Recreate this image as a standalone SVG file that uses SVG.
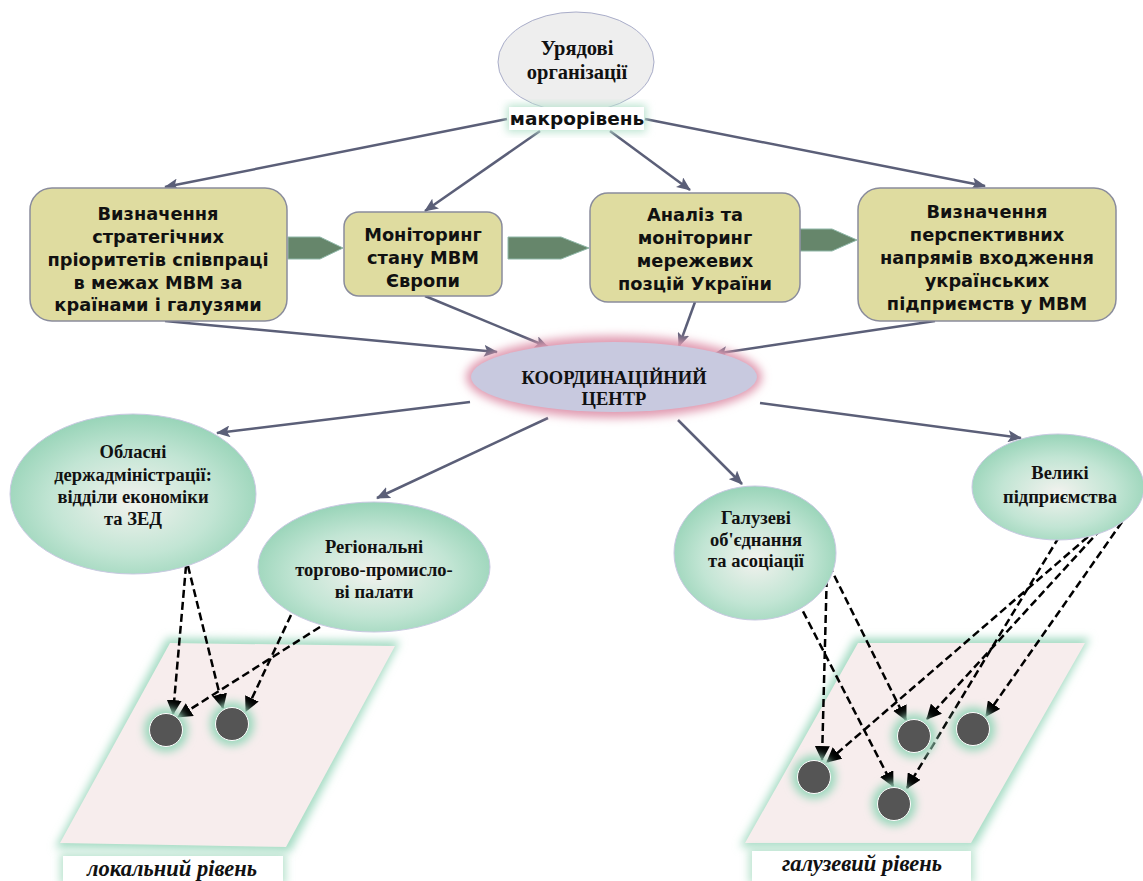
<svg xmlns="http://www.w3.org/2000/svg" width="1143" height="881" viewBox="0 0 1143 881">
<defs>
<style>
.box{fill:#dfdca0;stroke:#8a8c9c;stroke-width:1.5}
.bt{font-family:"DejaVu Sans",Verdana,sans-serif;font-weight:bold;font-size:17.8px;fill:#111;text-anchor:middle}
.st{font-family:"Liberation Serif","Times New Roman",serif;font-weight:bold;font-size:18.5px;fill:#111;text-anchor:middle}
.it{font-family:"Liberation Serif","Times New Roman",serif;font-weight:bold;font-style:italic;font-size:22.5px;fill:#111;text-anchor:middle}
.con{stroke:#5b5f78;stroke-width:2.5;fill:none;marker-end:url(#ah)}
.dash{stroke:#000;stroke-width:2.5;fill:none;stroke-dasharray:8 4;marker-end:url(#dh)}
.blk{fill:#66866b;stroke:#8fb7a8;stroke-width:1}
.gel{fill:url(#gg);stroke:#c9c9e2;stroke-width:1}
.dot{fill:#555;stroke:#fff;stroke-width:1}
.glow{fill:#a6dcc4;filter:url(#blur)}
</style>
<marker id="ah" viewBox="0 0 14 12" refX="13" refY="6" markerWidth="14" markerHeight="12" markerUnits="userSpaceOnUse" orient="auto"><path d="M0,0 L14,6 L0,12 L3,6 Z" fill="#5b5f78"/></marker>
<marker id="dh" viewBox="0 0 14 14" refX="13" refY="7" markerWidth="15" markerHeight="15" markerUnits="userSpaceOnUse" orient="auto"><path d="M0,0 L14,7 L0,14 Z" fill="#000"/></marker>
<radialGradient id="gg" cx="50%" cy="55%" r="55%"><stop offset="0" stop-color="#f2f2ee"/><stop offset="0.6" stop-color="#c2e5d4"/><stop offset="1" stop-color="#98d4b8"/></radialGradient>
<filter id="blur" x="-20%" y="-20%" width="140%" height="140%"><feGaussianBlur stdDeviation="4"/></filter>
<filter id="blur2" x="-20%" y="-40%" width="140%" height="180%"><feGaussianBlur stdDeviation="5"/></filter>
</defs>
<rect width="1143" height="881" fill="#fff"/>

<g id="plane-local">
<polygon class="glow" points="167,638 400,641 290,852 55,848"/>
<polygon points="170,643 395,646 286,847 60,843" fill="#f7eded"/>
</g>
<g id="plane-industry">
<polygon class="glow" points="855,638 1090,638 975,847 740,847"/>
<polygon points="858,643 1085,643 971,843 745,843" fill="#f7eded"/>
</g>

<g id="connectors">
<line class="con" x1="507" y1="119" x2="165" y2="187"/>
<line class="con" x1="540" y1="131" x2="425" y2="211"/>
<line class="con" x1="610" y1="131" x2="690" y2="190"/>
<line class="con" x1="645" y1="119" x2="985" y2="186"/>
<line class="con" x1="165" y1="321" x2="497" y2="352"/>
<line class="con" x1="425" y1="296" x2="548" y2="347"/>
<line class="con" x1="695" y1="302" x2="679" y2="346"/>
<line class="con" x1="935" y1="321" x2="714" y2="354"/>
<line class="con" x1="470" y1="402" x2="217" y2="433"/>
<line class="con" x1="548" y1="418" x2="377" y2="498"/>
<line class="con" x1="678" y1="420" x2="742" y2="484"/>
<line class="con" x1="760" y1="403" x2="1021" y2="438"/>
<line class="dash" x1="186" y1="566" x2="173" y2="714"/>
<line class="dash" x1="188" y1="566" x2="223" y2="708"/>
<line class="dash" x1="291" y1="615" x2="246" y2="711"/>
<line class="dash" x1="320" y1="627" x2="178" y2="717"/>
<line class="dash" x1="792" y1="590" x2="893" y2="786"/>
<line class="dash" x1="827" y1="567" x2="822" y2="760"/>
<line class="dash" x1="829" y1="565" x2="906" y2="720"/>
<line class="dash" x1="1059" y1="537" x2="907" y2="788"/>
<line class="dash" x1="1097" y1="529" x2="827" y2="762"/>
<line class="dash" x1="1101" y1="529" x2="927" y2="719"/>
<line class="dash" x1="1122" y1="522" x2="986" y2="716"/>
</g>

<g id="block-arrows">
<polygon class="blk" points="288,237 320,237 343,248 320,259 288,259"/>
<polygon class="blk" points="508,237 561,237 589,248 561,259 508,259"/>
<polygon class="blk" points="800,229 832,229 857,240 832,251 800,251"/>
</g>

<g id="gov">
<ellipse cx="576" cy="62" rx="78" ry="50" fill="#eeeeee" stroke="#a9adc9" stroke-width="1"/>
<text class="st" x="577" y="55" style="font-size:20.5px">Урядові</text>
<text class="st" x="577" y="79" style="font-size:20.5px">організації</text>
</g>
<g id="macro">
<rect x="507" y="105" width="139" height="27" fill="#b9e3cf" filter="url(#blur)"/>
<rect x="509" y="107" width="135" height="23" fill="#fff"/>
<text class="bt" x="577" y="125" style="font-size:18.5px">макрорівень</text>
</g>

<g id="box1">
<rect class="box" x="30" y="188" width="257" height="133" rx="22"/>
<text class="bt" x="158" y="220">Визначення</text>
<text class="bt" x="158" y="243">стратегічних</text>
<text class="bt" x="158" y="266">пріоритетів співпраці</text>
<text class="bt" x="158" y="289">в межах МВМ за</text>
<text class="bt" x="158" y="311">країнами і галузями</text>
</g>
<g id="box2">
<rect class="box" x="344" y="212" width="158" height="84" rx="15"/>
<text class="bt" x="423" y="241">Моніторинг</text>
<text class="bt" x="423" y="264">стану МВМ</text>
<text class="bt" x="423" y="287">Європи</text>
</g>
<g id="box3">
<rect class="box" x="590" y="193" width="210" height="109" rx="18"/>
<text class="bt" x="695" y="221">Аналіз та</text>
<text class="bt" x="695" y="244">моніторинг</text>
<text class="bt" x="695" y="267">мережевих</text>
<text class="bt" x="695" y="290">позцій України</text>
</g>
<g id="box4">
<rect class="box" x="858" y="188" width="258" height="133" rx="22"/>
<text class="bt" x="987" y="218">Визначення</text>
<text class="bt" x="987" y="241">перспективних</text>
<text class="bt" x="987" y="264">напрямів входження</text>
<text class="bt" x="987" y="287">українських</text>
<text class="bt" x="987" y="310">підприємств у МВМ</text>
</g>

<g id="center">
<ellipse cx="614" cy="377" rx="148" ry="41" fill="#e09ab0" filter="url(#blur2)"/>
<ellipse cx="614" cy="377" rx="143" ry="35" fill="#c8c9df"/>
<text class="st" x="614" y="384">КООРДИНАЦІЙНИЙ</text>
<text class="st" x="614" y="405">ЦЕНТР</text>
</g>

<g id="oblast">
<ellipse class="gel" cx="133" cy="494" rx="123" ry="80"/>
<text class="st" x="133" y="458">Обласні</text>
<text class="st" x="133" y="481">держадміністрації:</text>
<text class="st" x="133" y="503">відділи економіки</text>
<text class="st" x="133" y="525">та ЗЕД</text>
</g>
<g id="chambers">
<ellipse class="gel" cx="374" cy="567" rx="116" ry="65"/>
<text class="st" x="374" y="553">Регіональні</text>
<text class="st" x="374" y="576">торгово-промисло-</text>
<text class="st" x="374" y="598">ві палати</text>
</g>
<g id="associations">
<ellipse class="gel" cx="755" cy="553" rx="81" ry="67"/>
<text class="st" x="756" y="524">Галузеві</text>
<text class="st" x="756" y="546">об'єднання</text>
<text class="st" x="756" y="567">та асоціації</text>
</g>
<g id="enterprises">
<ellipse class="gel" cx="1058" cy="487" rx="86" ry="53"/>
<text class="st" x="1060" y="479">Великі</text>
<text class="st" x="1060" y="503">підприємства</text>
</g>

<g id="dots">
<circle cx="166" cy="730" r="22" fill="#9cd8bd" filter="url(#blur)"/>
<circle class="dot" cx="166" cy="730" r="16.5"/>
<circle cx="232" cy="724" r="22" fill="#9cd8bd" filter="url(#blur)"/>
<circle class="dot" cx="232" cy="724" r="16.5"/>
<circle cx="814" cy="777" r="22" fill="#9cd8bd" filter="url(#blur)"/>
<circle class="dot" cx="814" cy="777" r="16.5"/>
<circle cx="914" cy="736" r="22" fill="#9cd8bd" filter="url(#blur)"/>
<circle class="dot" cx="914" cy="736" r="16.5"/>
<circle cx="973" cy="729" r="22" fill="#9cd8bd" filter="url(#blur)"/>
<circle class="dot" cx="973" cy="729" r="16.5"/>
<circle cx="894" cy="804" r="22" fill="#9cd8bd" filter="url(#blur)"/>
<circle class="dot" cx="894" cy="804" r="16.5"/>
</g>

<g id="label-local">
<rect x="60" y="853" width="226" height="32" fill="#b9e3cf" filter="url(#blur)"/>
<rect x="63" y="856" width="220" height="28" fill="#fff"/>
<text class="it" x="172" y="876">локальний рівень</text>
</g>
<g id="label-industry">
<rect x="749" y="848" width="225" height="36" fill="#b9e3cf" filter="url(#blur)"/>
<rect x="752" y="851" width="219" height="32" fill="#fff"/>
<text class="it" x="862" y="871">галузевий рівень</text>
</g>
</svg>
